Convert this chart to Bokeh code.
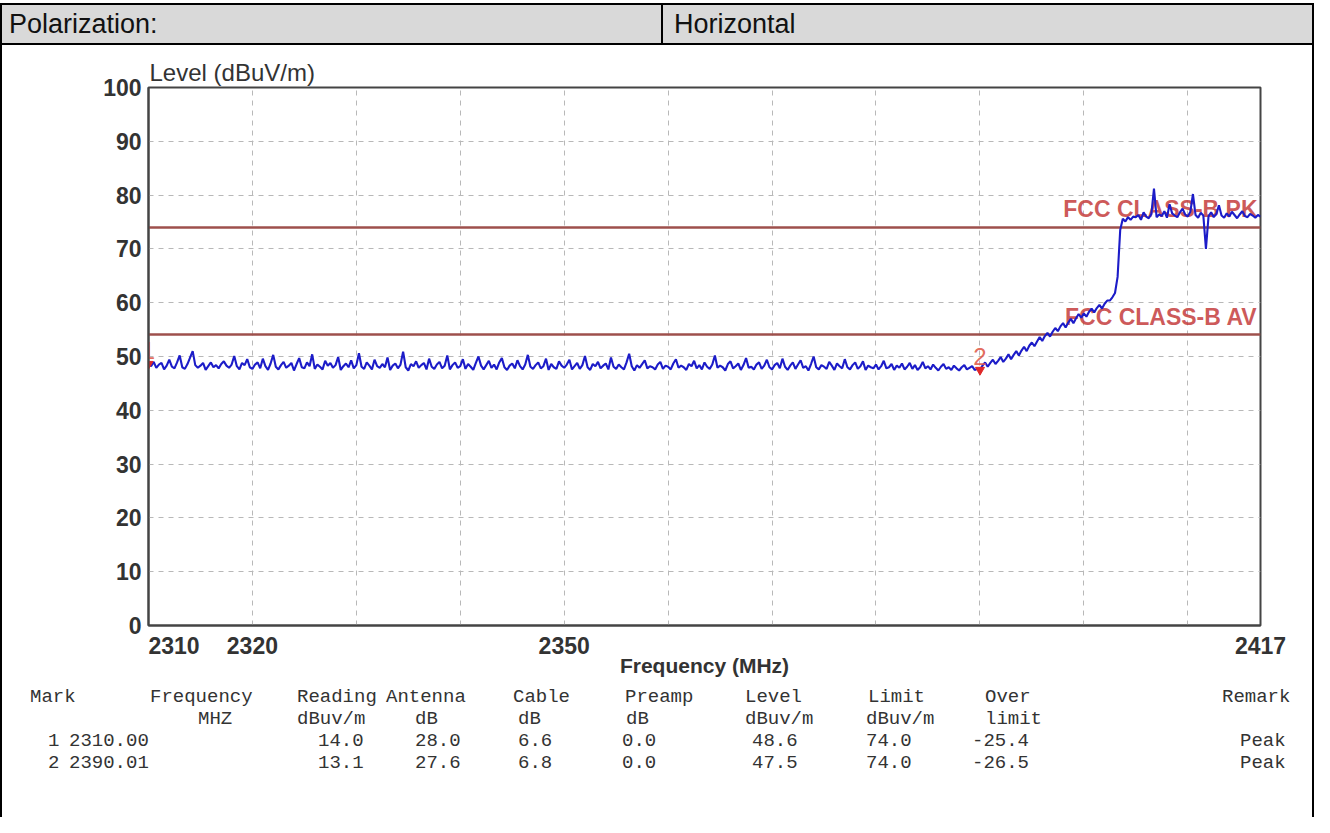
from bokeh.plotting import figure
from bokeh.models import FixedTicker, Div, Range1d
from bokeh.layouts import column, row
from bokeh.embed import file_html
from bokeh.resources import INLINE
from bokeh.core.properties import value
import numpy as np

# ---------------- data ----------------
polarization_label = "Polarization:"
polarization_value = "Horizontal"

FREQ_START = 2310.0
FREQ_STOP = 2417.0
FREQ_STEP = 0.25

level_trace = [
    # 2310 - 2319.75
    48.6, 48.2, 49.0, 47.9, 48.5, 48.8, 47.6, 48.3, 49.4, 48.1,
    47.8, 48.9, 50.2, 48.0, 47.7, 48.6, 49.8, 51.0, 48.4, 47.9,
    48.3, 48.8, 47.5, 48.2, 48.9, 48.0, 48.4, 47.8, 48.6, 49.1,
    48.3, 47.9, 48.5, 50.1, 48.2, 47.6, 48.8, 48.4, 49.5, 48.0,
    # 2320 - 2329.75
    47.7, 48.5, 48.9, 47.8, 49.6, 48.2, 47.5, 48.7, 50.3, 48.1,
    47.6, 48.4, 49.0, 47.9, 48.3, 48.8, 47.4, 48.6, 49.7, 48.0,
    47.8, 48.9, 48.2, 50.4, 47.7, 48.5, 48.1, 47.6, 49.2, 48.3,
    48.8, 47.9, 48.4, 49.9, 47.5, 48.2, 48.7, 48.0, 49.3, 47.8,
    # 2330 - 2339.75
    48.4, 50.6, 48.1, 47.7, 48.9, 48.3, 47.6, 49.4, 48.2, 47.9,
    48.6, 48.0, 49.8, 47.5, 48.3, 48.7, 47.8, 48.5, 50.9, 48.0,
    47.4, 48.6, 48.2, 49.1, 47.9, 48.4, 48.8, 47.6, 49.6, 48.1,
    47.7, 48.5, 49.0, 47.8, 48.3, 50.2, 47.6, 48.4, 48.9, 47.9,
    # 2340 - 2349.75
    48.2, 49.5, 47.7, 48.6, 48.1, 47.5, 48.8, 50.0, 48.3, 47.6,
    48.4, 49.2, 47.9, 48.5, 47.6, 48.9, 49.7, 48.0, 47.5, 48.3,
    48.7, 47.8, 49.3, 48.2, 47.6, 48.5, 50.3, 48.1, 47.7, 48.4,
    48.9, 47.8, 48.2, 49.6, 47.5, 48.6, 48.0, 47.7, 49.1, 48.3,
    # 2350 - 2359.75
    47.9, 48.5, 49.4, 47.6, 48.2, 48.8, 47.7, 48.4, 50.1, 48.0,
    47.5, 48.6, 48.2, 49.0, 47.8, 48.3, 48.7, 47.6, 49.8, 48.1,
    47.7, 48.5, 48.0, 47.6, 48.9, 50.5, 48.2, 47.4, 48.4, 47.9,
    48.6, 49.3, 47.8, 48.2, 48.0, 47.6, 48.5, 49.0, 47.7, 48.3,
    # 2360 - 2369.75
    48.1, 47.6, 48.7, 49.5, 47.9, 48.3, 48.0, 47.5, 48.6, 48.2,
    49.2, 47.8, 48.4, 47.6, 48.9, 48.1, 47.7, 48.5, 50.2, 47.9,
    48.3, 48.0, 47.4, 48.6, 49.1, 47.8, 48.2, 48.7, 47.5, 48.4,
    49.7, 47.9, 48.1, 47.6, 48.5, 48.9, 47.7, 48.3, 49.4, 48.0,
    # 2370 - 2379.75
    47.6, 48.4, 48.8, 47.8, 49.6, 48.1, 47.5, 48.3, 48.9, 47.7,
    48.5, 49.3, 47.9, 48.2, 47.4, 48.6, 50.0, 48.0, 47.6, 48.4,
    48.1, 47.7, 49.0, 48.3, 47.5, 48.7, 48.2, 47.8, 49.5, 48.0,
    47.6, 48.4, 48.9, 47.7, 48.2, 49.1, 47.5, 48.3, 48.0, 47.8,
    # 2380 - 2389.75
    48.5, 47.6, 48.2, 49.2, 47.8, 48.0, 48.6, 47.5, 48.3, 47.9,
    48.7, 47.6, 48.1, 48.8, 47.7, 48.4, 47.5, 48.0, 49.0, 47.8,
    48.2, 47.6, 48.5, 47.9, 47.4, 48.1, 48.6, 47.7, 48.0, 47.5,
    48.3, 47.8, 47.4, 48.0, 48.4, 47.6, 47.9, 48.2, 47.5, 47.7,
    # 2390 - 2399.75
    47.5, 48.3, 48.9, 48.1, 48.8, 49.4, 48.6, 49.2, 49.9, 49.0,
    49.6, 50.4, 49.5, 50.3, 51.0, 50.2, 51.1, 51.8, 51.0, 52.0,
    52.6, 51.9, 52.8, 53.6, 52.9, 53.8, 54.4, 53.7, 54.6, 55.3,
    54.7, 55.6, 56.2, 55.4, 56.3, 57.0, 56.2, 57.1, 57.9, 57.2,
    # 2400 - 2409.75
    58.0, 57.4, 58.3, 58.9, 58.2, 59.0, 59.6, 58.9, 59.8, 60.4,
    60.4, 61.0, 61.8, 64.8, 73.5, 75.6, 75.1, 75.9, 75.4, 76.0,
    75.9, 76.3, 75.4, 76.8, 76.0, 75.7, 76.5, 81.2, 75.9, 76.4,
    76.1, 77.0, 75.8, 78.3, 76.6, 76.2, 75.9, 76.8, 77.5, 76.4,
    # 2410 - 2417
    76.0, 76.9, 80.2, 76.3, 75.8, 76.7, 76.2, 70.0, 76.1, 76.8,
    75.9, 76.5, 78.1, 76.2, 75.8, 76.6, 76.0, 76.9, 76.3, 75.7,
    76.4, 77.0, 76.1, 75.9, 76.5, 76.2, 75.8, 76.3, 76.0,
]

limit_names = ["FCC CLASS-B PK", "FCC CLASS-B AV"]
limit_values = [74.0, 54.0]

marker_ids = ["1", "2"]
marker_freq = [2310.00, 2390.01]
marker_level = [48.6, 47.5]

x_tick_values = [2310, 2320, 2350, 2417]
x_grid_values = [2320, 2330, 2340, 2350, 2360, 2370, 2380, 2390, 2400, 2410]
y_tick_values = [0, 10, 20, 30, 40, 50, 60, 70, 80, 90, 100]

x_axis_title = "Frequency (MHz)"
y_axis_title = "Level (dBuV/m)"

table_head_1 = ["Mark", "Frequency", "Reading", "Antenna", "Cable", "Preamp", "Level", "Limit", "Over", "Remark"]
table_head_2 = ["", "MHZ", "dBuv/m", "dB", "dB", "dB", "dBuv/m", "dBuv/m", "limit", ""]
mark_no = [1, 2]
reading = [14.0, 13.1]
antenna = [28.0, 27.6]
cable = [6.6, 6.8]
preamp = [0.0, 0.0]
limit_col = [74.0, 74.0]
over_limit = [-25.4, -26.5]
remark = ["Peak", "Peak"]

# ---------------- layout constants ----------------
PAGE_W = 1314
HEADER_H = 45
FIG_H = 638
TABLE_H = 817 - HEADER_H - FIG_H

freqs = np.arange(len(level_trace)) * FREQ_STEP + FREQ_START

# ---------------- header ----------------
header_html = (
    f'<div style="position:relative;width:{PAGE_W}px;height:{HEADER_H}px;background:#fff;">'
    f'<div style="position:absolute;left:0px;top:3px;width:{PAGE_W}px;height:{HEADER_H - 3}px;'
    'box-sizing:border-box;border:2px solid #000;background:#d9d9d9;'
    'font-family:\'Liberation Sans\',Arial,sans-serif;font-size:27px;color:#111;line-height:38px;">'
    f'<span style="position:absolute;left:7px;top:0px;">{polarization_label}</span>'
    '<div style="position:absolute;left:659px;top:0px;width:2px;height:38px;background:#000;"></div>'
    f'<span style="position:absolute;left:672px;top:0px;">{polarization_value}</span>'
    '</div></div>'
)
header = Div(text=header_html, width=PAGE_W, height=HEADER_H, margin=0)

# ---------------- figure ----------------
p = figure(width=PAGE_W - 4, height=FIG_H,
           x_range=Range1d(FREQ_START, FREQ_STOP), y_range=Range1d(0, 100),
           output_backend="svg", toolbar_location=None,
           min_border_left=146, min_border_right=52, min_border_top=42, min_border_bottom=58,
           title=y_axis_title)
p.background_fill_color = "white"
p.border_fill_color = "white"
p.outline_line_color = "#444444"
p.outline_line_width = 2

p.title.align = "left"
p.title.text_font = "Liberation Sans"
p.title.text_font_size = "24px"
p.title.text_font_style = "normal"
p.title.text_color = "#333333"
p.title.standoff = 3
p.title.offset = 1

for ax in (p.xaxis, p.yaxis):
    ax.axis_line_color = "#444444"
    ax.axis_line_width = 2
    ax.major_tick_line_color = None
    ax.minor_tick_line_color = None
    ax.major_label_text_font = "Liberation Sans"
    ax.major_label_text_font_style = "bold"
    ax.major_label_text_font_size = "23px"
    ax.major_label_text_color = "#333333"

p.xaxis.ticker = FixedTicker(ticks=x_tick_values)
# first label starts at the axis, as in the original report
p.xaxis.major_label_overrides = {x_tick_values[0]: "\u00a0" * 8 + str(x_tick_values[0])}
p.yaxis.ticker = FixedTicker(ticks=y_tick_values)
p.xaxis.major_label_standoff = 1
p.yaxis.major_label_standoff = 1
p.xaxis.axis_label = x_axis_title
p.xaxis.axis_label_text_font = "Liberation Sans"
p.xaxis.axis_label_text_font_style = "bold"
p.xaxis.axis_label_text_font_size = "21px"
p.xaxis.axis_label_text_color = "#333333"
p.xaxis.axis_label_standoff = -8

p.xgrid.ticker = FixedTicker(ticks=x_grid_values)
p.ygrid.ticker = FixedTicker(ticks=y_tick_values[1:-1])
for g in (p.xgrid, p.ygrid):
    g.grid_line_color = "#b8b8b8"
    g.grid_line_dash = "5 5"
    g.grid_line_width = 1

# limit lines
p.hspan(y=limit_values, line_color="#9e504c", line_width=2.5)
p.text(x=[FREQ_STOP] * len(limit_values), y=limit_values, text=limit_names,
       text_align="right", text_baseline="bottom", x_offset=-3, y_offset=-5,
       text_font=value("Liberation Sans"), text_font_style="bold", text_font_size="23px",
       text_color="#c43c3c", text_alpha=0.85)

# trace
p.line(freqs, level_trace, line_color="#1c1cc8", line_width=2.1)

# markers
p.scatter(marker_freq, marker_level, marker="inverted_triangle", size=9,
          fill_color="#e02828", line_color="#e02828")
p.text(x=marker_freq, y=marker_level, text=marker_ids, text_align="center",
       text_baseline="bottom", y_offset=-5,
       text_font=value("Liberation Sans"), text_font_size="24px",
       text_color="#e05a48", text_alpha=0.9)

# side borders of page body
def vbar_div(h):
    return Div(text=f'<div style="width:2px;height:{h}px;background:#000;"></div>',
               width=2, height=h, margin=0)

body = row(vbar_div(FIG_H), p, vbar_div(FIG_H), spacing=0)

# ---------------- table ----------------
head1_x = [30, 150, 297, 386, 513, 625, 745, 868, 985, 1222]
head2_x = [0, 198, 297, 415, 518, 626, 745, 866, 985, 0]
data_x = [48, 69, 318, 415, 518, 622, 752, 866, 972, 1240]
row_tops = [3, 25, 47, 69]

spans = []
def add(txt, xpage, top):
    if txt == "":
        return
    spans.append(f'<span style="position:absolute;left:{xpage - 2}px;top:{top}px;white-space:pre;">{txt}</span>')

for t, x in zip(table_head_1, head1_x):
    add(t, x, row_tops[0])
for t, x in zip(table_head_2, head2_x):
    add(t, x, row_tops[1])
for i in range(len(mark_no)):
    vals = [f"{mark_no[i]}", f"{marker_freq[i]:.2f}", f"{reading[i]:.1f}", f"{antenna[i]:.1f}",
            f"{cable[i]:.1f}", f"{preamp[i]:.1f}", f"{marker_level[i]:.1f}", f"{limit_col[i]:.1f}",
            f"{over_limit[i]:.1f}", remark[i]]
    for t, x in zip(vals, data_x):
        add(t, x, row_tops[2 + i])

table_html = (
    f'<div style="position:relative;width:{PAGE_W}px;height:{TABLE_H}px;box-sizing:border-box;'
    'border-left:2px solid #000;border-right:2px solid #000;background:#fff;'
    'font-family:\'Liberation Mono\',\'Courier New\',monospace;font-size:19px;color:#333;line-height:22px;">'
    + "".join(spans) + '</div>'
)
table = Div(text=table_html, width=PAGE_W, height=TABLE_H, margin=0)

layout = column(header, body, table, spacing=0)

with open("out.html", "w") as f:
    f.write(file_html(layout, INLINE))
